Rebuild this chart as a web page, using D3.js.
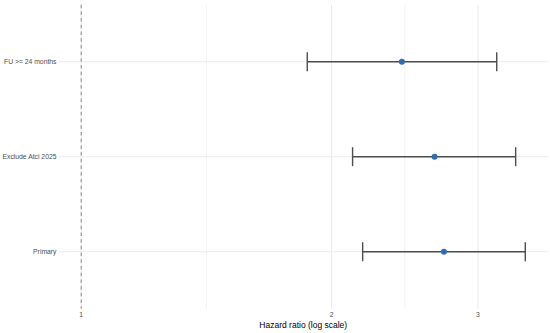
<!DOCTYPE html>
<html>
<head>
<meta charset="utf-8">
<script src="https://cdn.jsdelivr.net/npm/d3@7"></script>
<style>
  html, body { margin: 0; padding: 0; background: #fff; }
  text { font-family: "Liberation Sans", Arial, sans-serif; }
</style>
</head>
<body>
<div id="chart"></div>
<script>
// 데이터
const analyses = ["FU >= 24 months", "Exclude Atci 2025", "Primary"];
const hr = [2.43, 2.66, 2.73];
const lower = [1.87, 2.12, 2.18];
const upper = [3.16, 3.33, 3.42];
const xTicks = [1, 2, 3];
const xTickLabels = ["1", "2", "3"];
const refLine = 1;

const W = 550, H = 333;
const panel = { left: 59, right: 547.5, top: 4.7, bottom: 308.7 };

const svg = d3.select("#chart").append("svg")
  .attr("width", W).attr("height", H);

// x 스케일: 로그, ggplot처럼 5% 확장
const lo = Math.log(d3.min([refLine, ...lower]));
const hi = Math.log(d3.max([refLine, ...upper]));
const pad = (hi - lo) * 0.05;
const x = d3.scaleLog()
  .domain([Math.exp(lo - pad), Math.exp(hi + pad)])
  .range([panel.left, panel.right]);

const y = d3.scalePoint()
  .domain(analyses)
  .range([panel.top, panel.bottom])
  .padding(0.6);

// 보조 격자선 (로그 공간의 중간점)
const minor = d3.pairs(xTicks).map(([a, b]) => Math.sqrt(a * b));
svg.append("g").selectAll("line").data(minor).join("line")
  .attr("x1", d => x(d)).attr("x2", d => x(d))
  .attr("y1", panel.top).attr("y2", panel.bottom)
  .attr("stroke", "#ebebeb").attr("stroke-width", 0.6);

// 주 격자선
svg.append("g").selectAll("line").data(xTicks).join("line")
  .attr("x1", d => x(d)).attr("x2", d => x(d))
  .attr("y1", panel.top).attr("y2", panel.bottom)
  .attr("stroke", "#ebebeb").attr("stroke-width", 1.1);

svg.append("g").selectAll("line").data(analyses).join("line")
  .attr("x1", panel.left).attr("x2", panel.right)
  .attr("y1", d => y(d)).attr("y2", d => y(d))
  .attr("stroke", "#ebebeb").attr("stroke-width", 1.1);

// 기준선 HR = 1
svg.append("line")
  .attr("x1", x(refLine)).attr("x2", x(refLine))
  .attr("y1", panel.top).attr("y2", panel.bottom)
  .attr("stroke", "#8a8a8a").attr("stroke-width", 1)
  .attr("stroke-dasharray", "3.5,3.2");

// 오차 막대
const rows = analyses.map((a, i) => ({ a, hr: hr[i], lo: lower[i], hi: upper[i] }));
const capH = y.step() * 0.1;
const eb = svg.append("g").attr("stroke", "#4d4d4d").attr("stroke-width", 1.4);
eb.selectAll(".bar").data(rows).join("line")
  .attr("x1", d => x(d.lo)).attr("x2", d => x(d.hi))
  .attr("y1", d => y(d.a)).attr("y2", d => y(d.a));
eb.selectAll(".capl").data(rows).join("line")
  .attr("x1", d => x(d.lo)).attr("x2", d => x(d.lo))
  .attr("y1", d => y(d.a) - capH).attr("y2", d => y(d.a) + capH);
eb.selectAll(".caph").data(rows).join("line")
  .attr("x1", d => x(d.hi)).attr("x2", d => x(d.hi))
  .attr("y1", d => y(d.a) - capH).attr("y2", d => y(d.a) + capH);

// 점 추정치
svg.append("g").selectAll("circle").data(rows).join("circle")
  .attr("cx", d => x(d.hr)).attr("cy", d => y(d.a))
  .attr("r", 3).attr("fill", "#2f6db1");

// 축 라벨
svg.append("g").selectAll("text").data(xTicks).join("text")
  .attr("x", d => x(d)).attr("y", 316.5)
  .attr("text-anchor", "middle")
  .attr("font-size", 6.8).attr("fill", "#4d4d4d")
  .text((d, i) => xTickLabels[i]);

svg.append("g").selectAll("text").data(analyses).join("text")
  .attr("x", 56.5).attr("y", d => y(d) + 2.4)
  .attr("text-anchor", "end")
  .attr("font-size", 6.8).attr("fill", "#4d4d4d")
  .text(d => d);

svg.append("text")
  .attr("x", (panel.left + panel.right) / 2).attr("y", 327.5)
  .attr("text-anchor", "middle")
  .attr("font-size", 8.5).attr("fill", "#000")
  .text("Hazard ratio (log scale)");
</script>
</body>
</html>
